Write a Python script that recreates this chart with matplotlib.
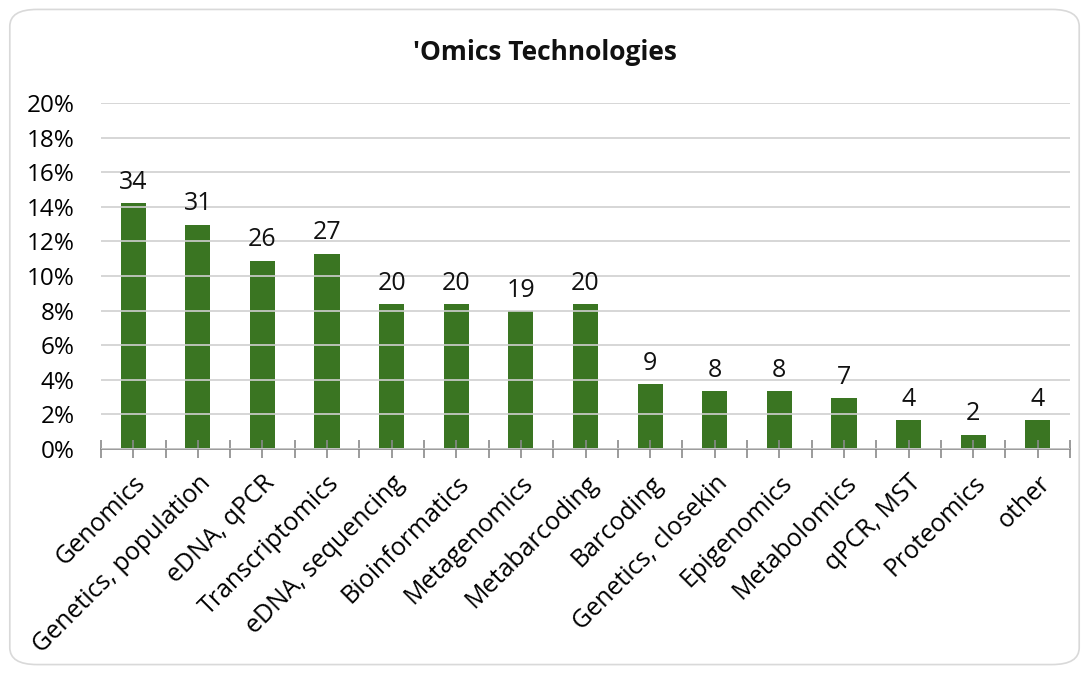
import numpy as np
import matplotlib.pyplot as plt
from matplotlib.patches import FancyBboxPatch
from matplotlib.ticker import PercentFormatter

plt.rcParams['font.family'] = ['Open Sans', 'DejaVu Sans']

categories = ["Genomics", "Genetics, population", "eDNA, qPCR", "Transcriptomics",
              "eDNA, sequencing", "Bioinformatics", "Metagenomics", "Metabarcoding",
              "Barcoding", "Genetics, closekin", "Epigenomics", "Metabolomics",
              "qPCR, MST", "Proteomics", "other"]
counts = [34, 31, 26, 27, 20, 20, 19, 20, 9, 8, 8, 7, 4, 2, 4]
shares = [c / sum(counts) for c in counts]

fig = plt.figure(figsize=(10.89, 6.74), dpi=100)
ax = fig.add_axes([0.0927, 0.3338, 0.8899, 0.5134])

x = np.arange(len(categories))
bars = ax.bar(x, shares, width=0.39, color="#3a7522", zorder=2)

for xi, s, c in zip(x, shares, counts):
    ax.annotate(str(c), (xi, s), xytext=(0, 6), textcoords="offset points",
                ha="center", va="bottom", fontsize=18, color="#111111")

ax.set_xlim(-0.5, len(categories) - 0.5)
ax.set_ylim(0, 0.20)
ax.set_yticks(np.arange(0, 0.201, 0.02))
ax.yaxis.set_major_formatter(PercentFormatter(1.0, decimals=0))
ax.grid(axis="y", color="#d0d0d0", linewidth=1.2, zorder=0)
ax.tick_params(axis="y", length=0, labelsize=17.5, pad=19)

ax.set_xticks(x)
ax.set_xticklabels(categories, rotation=45, ha="right", rotation_mode="anchor", fontsize=18)
ax.set_xticks(np.arange(-0.5, len(categories), 1), minor=True)
ax.tick_params(axis="x", which="both", direction="inout", length=13, color="#8a8a8a",
               width=1.2, pad=9)

for side in ["left", "right", "top"]:
    ax.spines[side].set_visible(False)
ax.spines["bottom"].set_color("#8a8a8a")
ax.spines["bottom"].set_linewidth(1.2)
ax.set_axisbelow(False)

fig.text(0.50, 0.922, "'Omics Technologies", ha="center", va="center",
         fontsize=19, fontweight="bold", color="#111111")

border = FancyBboxPatch((0.009, 0.014), 0.982, 0.972, transform=fig.transFigure,
                        boxstyle="round,pad=0,rounding_size=0.025",
                        facecolor="none", edgecolor="#d9d9d9", linewidth=1.2)
fig.patches.append(border)

fig.savefig("out.png", dpi=100)
